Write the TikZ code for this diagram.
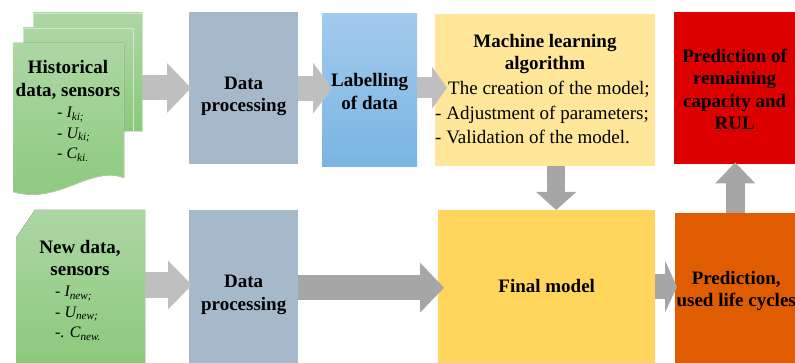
\documentclass[tikz,border=0pt]{standalone}
\usepackage{fontspec}
\setmainfont{Liberation Serif}
\usetikzlibrary{arrows.meta}

\definecolor{pagetop}{RGB}{172,215,164}
\definecolor{pagebottom}{RGB}{140,201,124}
\definecolor{pageedge}{RGB}{205,232,198}
\definecolor{procblue}{RGB}{166,185,203}
\definecolor{labtop}{RGB}{163,202,236}
\definecolor{labbottom}{RGB}{121,181,226}
\definecolor{algoyellow}{RGB}{255,230,153}
\definecolor{modelyellow}{RGB}{255,213,91}
\definecolor{resultred}{RGB}{220,0,0}
\definecolor{predorange}{RGB}{224,92,0}
\definecolor{arrowlight}{RGB}{191,191,191}
\definecolor{arrowdark}{RGB}{166,166,166}

\begin{document}
\begin{tikzpicture}[x=1pt,y=-1pt,
      box/.style={rectangle,inner sep=0pt,anchor=north west},
      title/.style={font=\fontsize{19}{22.5}\selectfont\bfseries,align=center,inner sep=0pt},
      plain/.style={font=\fontsize{19}{24.5}\selectfont,align=left,anchor=north west,inner sep=0pt},
      items/.style={font=\fontsize{16}{20.5}\selectfont\itshape,align=left,anchor=north west,inner sep=0pt},
      fat arrow/.style n args={3}{line width=#1,-{Triangle[length=#2,width=#3,line width=0pt]}}]

      \useasboundingbox (0,0) rectangle (795,363);
      \clip (0,0) rectangle (795,363);

      % stacked pages of the historical data
      \filldraw[draw=pageedge,top color=pagetop,bottom color=pagebottom] (33,13) rectangle (142,131);
      \filldraw[draw=pageedge,top color=pagetop,bottom color=pagebottom] (23,28) rectangle (133,131);
      \filldraw[draw=pageedge,top color=pagetop,bottom color=pagebottom]
        (13,43) -- (124,43) -- (124,178) .. controls (90,165) and (60,205) .. (13,192) -- cycle;
      \coordinate (histout) at (142,88);
      \node[title] (histtitle) at (68,80) {Historical\\data, sensors};
      \node[items] (histitems) at (57,107) {- I\textsubscript{ki;}\\- U\textsubscript{ki;}\\- C\textsubscript{ki.}};

      % page of the new data
      \fill[top color=pagetop,bottom color=pagebottom]
        (35,210) -- (145,210) -- (145,363) -- (16,363) -- (16,238) -- cycle;
      \coordinate (newout) at (145,285);
      \node[title] (newtitle) at (80,258) {New data,\\sensors};
      \node[items] (newitems) at (55,286) {- I\textsubscript{new;}\\- U\textsubscript{new;}\\-. C\textsubscript{new.}};

      % boxes
      \node[box,fill=procblue,minimum width=109pt,minimum height=152pt] (proc1) at (189,12) {};
      \node[box,top color=labtop,bottom color=labbottom,minimum width=95pt,minimum height=153pt] (lab) at (322,13) {};
      \node[box,fill=algoyellow,minimum width=220pt,minimum height=152pt] (algo) at (435,14) {};
      \node[box,fill=resultred,minimum width=123pt,minimum height=152pt] (result) at (674,12) {};
      \node[box,fill=procblue,minimum width=109pt,minimum height=153pt] (proc2) at (189,210) {};
      \node[box,fill=modelyellow,minimum width=217pt,minimum height=153pt] (model) at (438,210) {};
      \node[box,fill=predorange,minimum width=122pt,minimum height=150pt] (pred) at (675,213) {};

      % box texts
      \node[title] (proc1text) at ([yshift=-8pt]proc1.center) {Data\\processing};
      \node[title] (labtext) at ([yshift=-2pt]lab.center) {Labelling\\of data};
      \node[title] (algotitle) at (545,54) {Machine learning\\algorithm};
      \node[plain] (algolist) at (435,81) {\hspace*{13pt}The creation of the model;\\- Adjustment of parameters;\\- Validation of the model.};
      \node[title] (resulttext) at ([xshift=-1pt,yshift=-1pt]result.center) {Prediction of\\remaining\\capacity and\\RUL};
      \node[title] (proc2text) at ([yshift=-8pt]proc2.center) {Data\\processing};
      \node[title] (modeltext) at ([yshift=1pt]model.center) {Final model};
      \node[title] (predtext) at ([yshift=-3pt]pred.center) {Prediction,\\used life cycles};

      % block arrows
      \draw[arrowlight,fat arrow={25pt}{24pt}{50pt}] (histout) -- ([xshift=2pt]histout -| proc1.west);
      \draw[arrowlight,fat arrow={25pt}{19pt}{51pt}] (proc1.east) -- ([xshift=10pt]proc1.east -| lab.west);
      \draw[arrowlight,fat arrow={21pt}{15pt}{42pt}] ([yshift=2pt]lab.east) -- ([xshift=12pt,yshift=2pt]lab.east -| algo.west);
      \draw[arrowdark,fat arrow={18pt}{18pt}{40pt}] ([xshift=11pt]algo.south) -- ([xshift=11pt]algo.south |- model.north);
      \draw[arrowlight,fat arrow={26pt}{24pt}{49pt}] (newout) -- ([xshift=3pt]newout -| proc2.west);
      \draw[arrowdark,fat arrow={25pt}{24pt}{50pt}] ([yshift=-1pt]proc2.east) -- ([xshift=6pt,yshift=-1pt]proc2.east -| model.west);
      \draw[arrowdark,fat arrow={25pt}{12pt}{52pt}] (model.east) -- ([xshift=2pt]model.east -| pred.west);
      \draw[arrowdark,fat arrow={19pt}{21pt}{40pt}] ([xshift=-1pt]pred.north) -- ([xshift=-1pt,yshift=2pt]pred.north |- result.south);

    \end{tikzpicture}
\end{document}
